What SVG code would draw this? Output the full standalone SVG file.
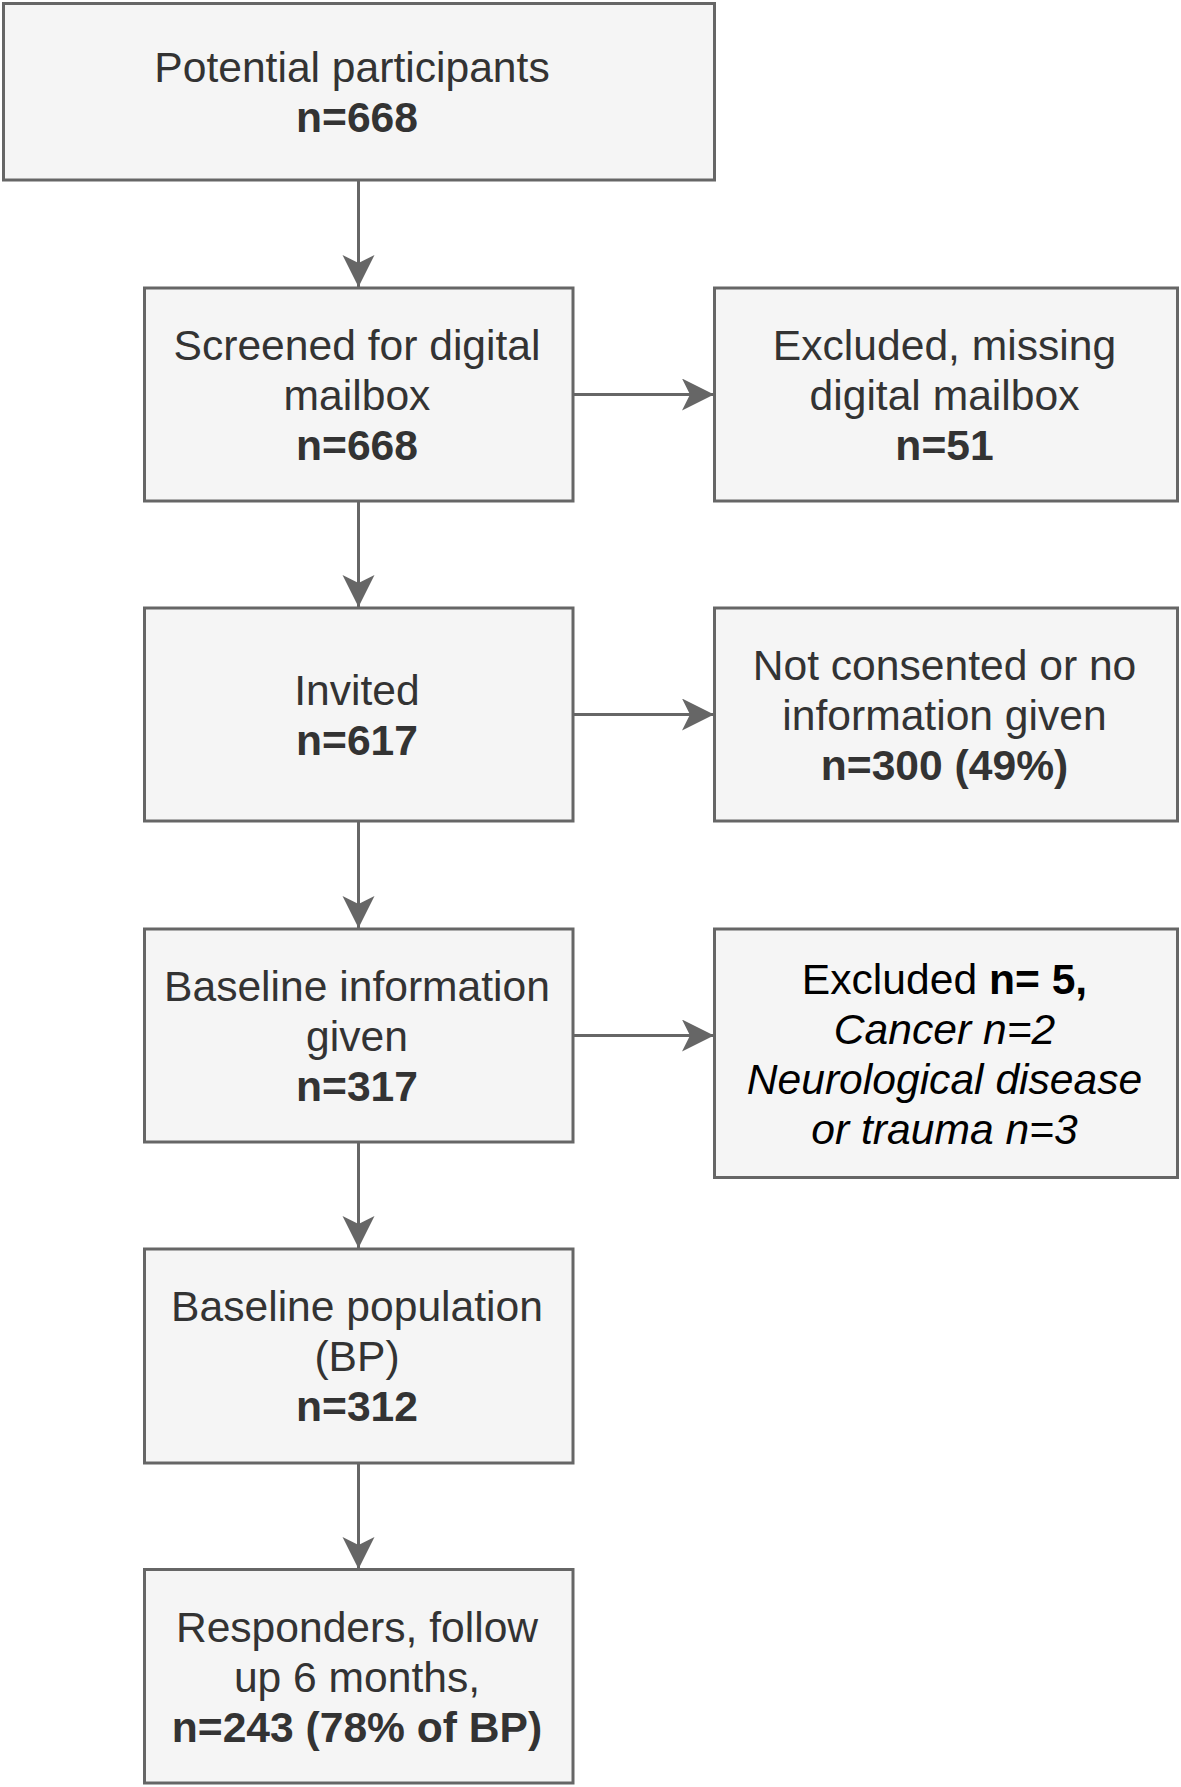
<svg xmlns="http://www.w3.org/2000/svg" width="1181" height="1787" viewBox="0 0 1181 1787">
<style>
.box{fill:#f5f5f5;stroke:#666666;stroke-width:3}
.t{font-family:"Liberation Sans",Arial,sans-serif;font-size:42.6px;fill:#333333;text-anchor:middle}
.k{fill:#000000}
.b{font-weight:bold}
.i{font-style:italic}
.edge{stroke:#666666;stroke-width:3;fill:none}
</style>
<defs>
<marker id="arr" markerUnits="userSpaceOnUse" markerWidth="40" markerHeight="40" refX="32" refY="16" orient="auto" viewBox="0 0 40 40">
<path d="M32,16 L0,0 L8,16 L0,32 Z" fill="#666666"/>
</marker>
</defs>
<rect width="1181" height="1787" fill="#ffffff"/>
<g id="connectors">
<line class="edge" x1="358.5" y1="180" x2="358.5" y2="287" marker-end="url(#arr)"/>
<line class="edge" x1="358.5" y1="501" x2="358.5" y2="607" marker-end="url(#arr)"/>
<line class="edge" x1="358.5" y1="821" x2="358.5" y2="928" marker-end="url(#arr)"/>
<line class="edge" x1="358.5" y1="1142" x2="358.5" y2="1248" marker-end="url(#arr)"/>
<line class="edge" x1="358.5" y1="1463" x2="358.5" y2="1569" marker-end="url(#arr)"/>
<line class="edge" x1="573" y1="394.5" x2="714" y2="394.5" marker-end="url(#arr)"/>
<line class="edge" x1="573" y1="714.5" x2="714" y2="714.5" marker-end="url(#arr)"/>
<line class="edge" x1="573" y1="1035.5" x2="714" y2="1035.5" marker-end="url(#arr)"/>
</g>
<g id="n1">
<rect class="box" x="3.5" y="3.5" width="711" height="176.5"/>
<text class="t" x="352" y="82">Potential participants</text>
<text class="t b" x="357" y="132">n=668</text>
</g>
<g id="n2">
<rect class="box" x="144.5" y="288" width="428.5" height="213"/>
<text class="t" x="357" y="360">Screened for digital</text>
<text class="t" x="357" y="410">mailbox</text>
<text class="t b" x="357" y="460">n=668</text>
</g>
<g id="n2r">
<rect class="box" x="714.5" y="288" width="463" height="213"/>
<text class="t" x="944.5" y="360">Excluded, missing</text>
<text class="t" x="944.5" y="410">digital mailbox</text>
<text class="t b" x="944.5" y="460">n=51</text>
</g>
<g id="n3">
<rect class="box" x="144.5" y="608" width="428.5" height="213"/>
<text class="t" x="357" y="705">Invited</text>
<text class="t b" x="357" y="755">n=617</text>
</g>
<g id="n3r">
<rect class="box" x="714.5" y="608" width="463" height="213"/>
<text class="t" x="944.5" y="680">Not consented or no</text>
<text class="t" x="944.5" y="730">information given</text>
<text class="t b" x="944.5" y="780">n=300 (49%)</text>
</g>
<g id="n4">
<rect class="box" x="144.5" y="929" width="428.5" height="213"/>
<text class="t" x="357" y="1001">Baseline information</text>
<text class="t" x="357" y="1051">given</text>
<text class="t b" x="357" y="1101">n=317</text>
</g>
<g id="n4r">
<rect class="box" x="714.5" y="929" width="463" height="248.5"/>
<text class="t k" x="944.5" y="994">Excluded <tspan class="b">n= 5,</tspan></text>
<text class="t k i" x="944.5" y="1044">Cancer n=2</text>
<text class="t k i" x="944.5" y="1094">Neurological disease</text>
<text class="t k i" x="944.5" y="1144">or trauma n=3</text>
</g>
<g id="n5">
<rect class="box" x="144.5" y="1249" width="428.5" height="214"/>
<text class="t" x="357" y="1321">Baseline population</text>
<text class="t" x="357" y="1371">(BP)</text>
<text class="t b" x="357" y="1421">n=312</text>
</g>
<g id="n6">
<rect class="box" x="144.5" y="1569.5" width="428.5" height="213.5"/>
<text class="t" x="357" y="1642">Responders, follow</text>
<text class="t" x="357" y="1692">up 6 months,</text>
<text class="t b" x="357" y="1742">n=243 (78% of BP)</text>
</g>
</svg>
